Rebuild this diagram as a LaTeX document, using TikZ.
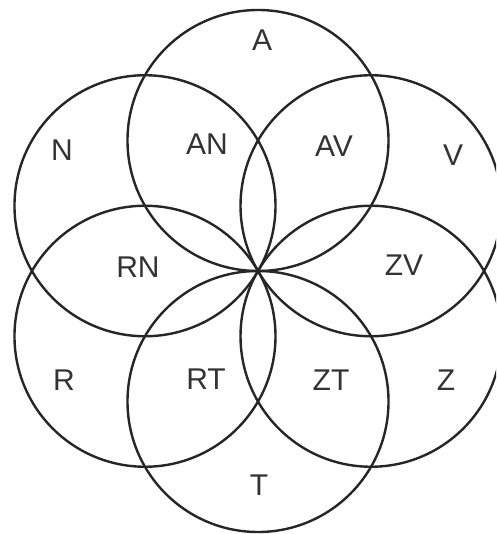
\documentclass[tikz,border=0pt]{standalone}
\usepackage{fontspec}
\setmainfont{Liberation Sans}
\usetikzlibrary{calc}
\begin{document}
\begin{tikzpicture}[x=1pt,y=-1pt,
  ring/.style={draw=black!85, line width=2.4pt},
  lbl/.style={text=black!80, inner sep=0pt, font=\fontsize{30}{30}\selectfont}]
\useasboundingbox (0,0) rectangle (496,534);
\fill[white] (0,0) rectangle (496,534);
\clip (0,0) rectangle (496,534);
\coordinate (O) at (258,271);
\def\rr{130.5}
\foreach \ang in {90,30,-30,-90,-150,150}{
  \draw[ring] ($(O)+(\ang:\rr pt)$) circle[radius=\rr];
}
\node[lbl] (A) at (262,40) {A};
\node[lbl] (N) at (62,150) {N};
\node[lbl] (AN) at (207,144) {AN};
\node[lbl] (AV) at (334,146) {AV};
\node[lbl] (V) at (453,155) {V};
\node[lbl] (RN) at (138,267) {RN};
\node[lbl] (ZV) at (404,265) {ZV};
\node[lbl] (R) at (64,380) {R};
\node[lbl] (RT) at (206,379) {RT};
\node[lbl] (ZT) at (331,380) {ZT};
\node[lbl] (Z) at (446,380) {Z};
\node[lbl] (T) at (259,485) {T};
\end{tikzpicture}
\end{document}
